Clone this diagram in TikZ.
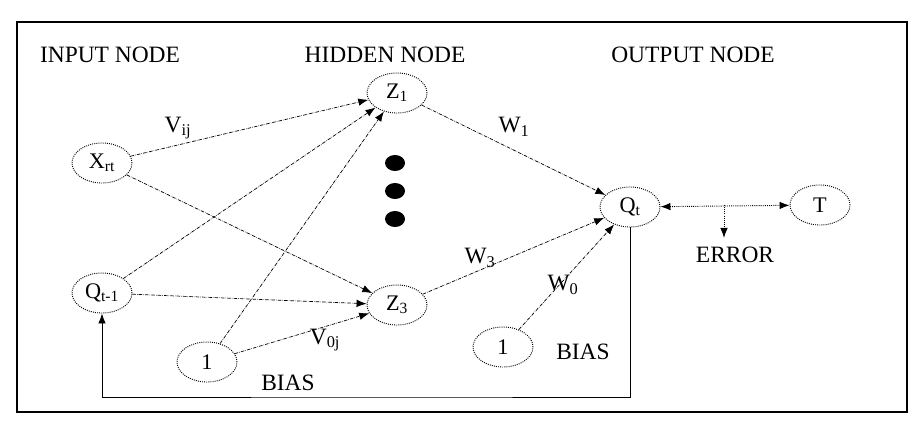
\documentclass[tikz,border=0pt]{standalone}
\usepackage{fontspec}
\setmainfont{Liberation Serif}
\usetikzlibrary{shapes.geometric,arrows.meta}

\begin{document}
\begin{tikzpicture}[x=0.03cm,y=-0.03cm,
  neuron/.style={draw,ellipse,densely dotted,thick,minimum width=1.8cm,minimum height=1.2cm,font=\fontsize{19}{19}\selectfont},
  lbl/.style={font=\fontsize{20}{20}\selectfont},
  link/.style={densely dashdotted,semithick,-{Latex[length=3mm]}}]
  \useasboundingbox (0,0) rectangle (923,432);
  \draw[very thick] (17,22) rectangle (907,412);
  % layer titles
  \node[lbl] (tin) at (110,55) {INPUT NODE};
  \node[lbl] (thid) at (385,55) {HIDDEN NODE};
  \node[lbl] (tout) at (693,55) {OUTPUT NODE};
  % neurons
  \node[neuron] (x) at (102,163) {X\textsubscript{rt}};
  \node[neuron] (qp) at (102,293) {Q\textsubscript{t-1}};
  \node[neuron] (b1) at (207,362) {1};
  \node[neuron] (z1) at (397,93) {Z\textsubscript{1}};
  \node[neuron] (z3) at (397,305) {Z\textsubscript{3}};
  \node[neuron] (q) at (630,207) {Q\textsubscript{t}};
  \node[neuron] (t) at (820,205) {T};
  \node[neuron] (b2) at (503,347) {1};
  \foreach \y in {163,191,219}
    \fill (395,\y) ellipse (10 and 8);
  % weights
  \draw[link] (x) -- (z1);
  \draw[link] (x) -- (z3);
  \draw[link] (qp) -- (z1);
  \draw[link] (qp) -- (z3);
  \draw[link] (b1) -- (z1);
  \draw[link] (b1) -- (z3);
  \draw[link] (z1) -- (q);
  \draw[link] (z3) -- (q);
  \draw[link] (b2) -- (q);
  \draw[densely dotted,thick,{Latex[length=3mm]}-{Latex[length=3mm]}] (q) -- (t);
  \coordinate (e) at (724,205);
  \draw[densely dotted,thick,-{Latex[length=3mm]}] (e) -- ++(0,33);
  \draw[semithick,-{Latex[length=3mm]}] (q.south) |- (397,397) -| (qp.south);
  % labels
  \node[lbl] (lv) at (178,128) {V\textsubscript{ij}};
  \node[lbl] (lv0) at (325,340) {V\textsubscript{0j}};
  \node[lbl] (lw1) at (514,127) {W\textsubscript{1}};
  \node[lbl] (lw3) at (480,258) {W\textsubscript{3}};
  \node[lbl] (lw0) at (563,285) {W\textsubscript{0}};
  \node[lbl] (lerr) at (735,255) {ERROR};
  \node[lbl] (lb1) at (288,383) {BIAS};
  \node[lbl] (lb2) at (583,352) {BIAS};
\end{tikzpicture}
\end{document}
